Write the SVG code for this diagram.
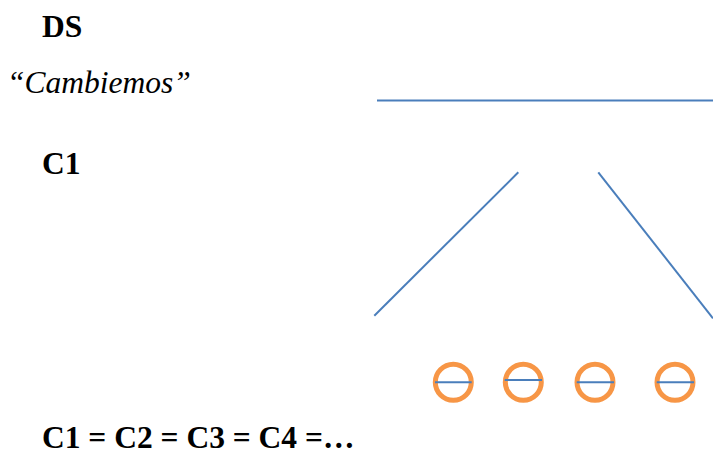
<svg xmlns="http://www.w3.org/2000/svg" width="713" height="452" viewBox="0 0 713 452">
<style>
.b{font-family:"Liberation Serif","Times New Roman",serif;font-weight:bold;font-size:31.5px;fill:#000}
.i{font-family:"Liberation Serif","Times New Roman",serif;font-style:italic;font-size:31.5px;fill:#000}
.ln{stroke:#4A7EBB;stroke-width:2;fill:none}
.ring{stroke:#F79646;stroke-width:5;fill:none}
.bar{stroke:#4A7EBB;stroke-width:2}
</style>
<rect width="713" height="452" fill="#fff"/>
<g id="labels">
<text id="ds" class="b" x="42" y="37">DS</text>
<text id="cambiemos" class="i" x="7" y="93">“Cambiemos”</text>
<text id="c1" class="b" x="42" y="174">C1</text>
<text id="eq" class="b" x="42" y="448">C1 = C2 = C3 = C4 =…</text>
</g>
<g id="connectors">
<line class="ln" x1="377" y1="100.5" x2="713" y2="100.5"/>
<line class="ln" x1="518.3" y1="172.3" x2="374.3" y2="315.7"/>
<line class="ln" x1="598.3" y1="172.3" x2="713" y2="318.3"/>
</g>
<g id="node1"><circle class="ring" cx="453.3" cy="382.3" r="18"/><line class="bar" x1="435" y1="382.3" x2="471.7" y2="382.3"/></g>
<g id="node2"><circle class="ring" cx="523.3" cy="382.3" r="18"/><line class="bar" x1="504.7" y1="380" x2="542" y2="380"/></g>
<g id="node3"><circle class="ring" cx="595" cy="382.3" r="18"/><line class="bar" x1="576.7" y1="382.3" x2="614" y2="382.3"/></g>
<g id="node4"><circle class="ring" cx="675" cy="382.3" r="18"/><line class="bar" x1="656.7" y1="382.3" x2="694" y2="382.3"/></g>
</svg>
